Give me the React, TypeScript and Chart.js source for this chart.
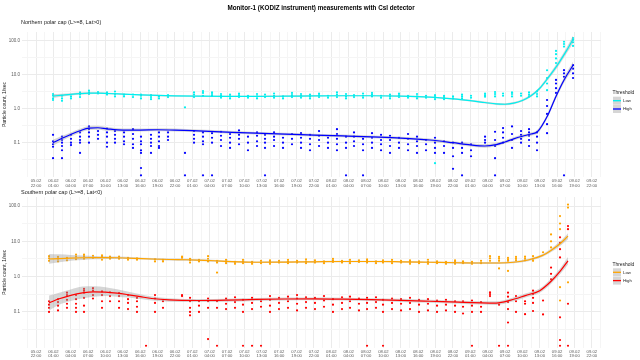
import React, { useEffect, useRef } from 'react';
import { Chart, registerables } from 'chart.js';
Chart.register(...registerables);

const FONT = '"Liberation Sans", Arial, Helvetica, sans-serif';

const mainTitle = 'Monitor-1 (KODIZ instrument) measurements with CsI detector';
const northTitle = 'Northern polar cap (L>=8, Lat>0)';
const southTitle = 'Southern polar cap (L>=8, Lat<0)';
const legendTitle = 'Threshold';
const seriesNames = ['Low', 'High'];
const yAxisTitle = 'Particle count, 1/sec';

// x axis: hours since 05.02 00:00
const xTickHours = [22, 25, 28, 31, 34, 37, 40, 43, 46, 49, 52, 55, 58, 61, 64, 67, 70, 73, 76, 79, 82, 85, 88, 91, 94, 97, 100, 103, 106, 109, 112, 115, 118];
const xTickLabels = [
  '05.02 22:00', '06.02 01:00', '06.02 04:00', '06.02 07:00', '06.02 10:00', '06.02 13:00', '06.02 16:00', '06.02 19:00', '06.02 22:00',
  '07.02 01:00', '07.02 04:00', '07.02 07:00', '07.02 10:00', '07.02 13:00', '07.02 16:00', '07.02 19:00', '07.02 22:00',
  '08.02 01:00', '08.02 04:00', '08.02 07:00', '08.02 10:00', '08.02 13:00', '08.02 16:00', '08.02 19:00', '08.02 22:00',
  '09.02 01:00', '09.02 04:00', '09.02 07:00', '09.02 10:00', '09.02 13:00', '09.02 16:00', '09.02 19:00', '09.02 22:00',
];
const X_MIN = 19.58;
const X_MAX = 119.58;

const yTickValues = [0.1, 1, 10, 100];
const yTickLabels = ['0.1', '1.0', '10.0', '100.0'];
const yMinorValues = [0.0316, 0.316, 3.16, 31.6];
const Y_MIN = 0.0098;
const Y_MAX = 180;

// ---------------- Northern polar cap ----------------
const northTimes = [
  24.94, 26.49, 28.04, 29.6, 31.15, 32.71, 34.26, 35.64, 37.2, 38.75, 40.13, 41.86, 43.24, 44.8,
  47.73, 49.29, 50.84, 52.4, 53.95, 55.51, 57.06, 58.61, 60.17, 61.55, 63.11, 64.66, 66.21, 67.77,
  69.32, 70.88, 72.43, 73.98, 75.54, 76.92, 78.48, 80.03, 81.59, 83.14, 84.69, 86.25, 87.8, 89.36,
  90.91, 92.47, 94.02, 95.58, 97.13, 99.55, 101.28, 102.66, 104.21, 105.77, 107.15, 108.53, 110.26,
  111.81, 113.19, 114.75,
];
const northLow = [
  [1.8, 2.0, 2.4, 2.7], [1.7, 2.0, 2.4], [2.0, 2.3], [2.2, 2.6, 3.0], [2.7, 3.0, 3.4], [2.8, 3.1], [2.6, 3.0],
  [2.3, 2.7, 3.2], [2.3, 2.6], [2.2, 2.6], [2.0, 2.4, 2.6], [1.9, 2.2, 2.5], [2.0, 2.3], [2.2, 2.5],
  [1.1], [2.2, 2.6, 3.0], [2.4, 2.9, 3.3], [2.4, 2.7, 3.0], [2.1, 2.4, 2.7], [2.0, 2.3, 2.6], [2.2, 2.5, 2.8],
  [2.1, 2.4], [2.0, 2.3, 2.7], [2.2, 2.6], [2.1, 2.4, 2.8], [2.0, 2.3], [2.2, 2.5, 2.9], [2.1, 2.4, 2.7],
  [2.0, 2.3, 2.6], [2.2, 2.5, 2.8], [2.1, 2.4], [2.2, 2.6, 3.0], [2.0, 2.3, 2.7], [2.2, 2.5], [2.1, 2.4, 2.8],
  [2.3, 2.6, 2.9], [2.1, 2.4], [2.0, 2.3, 2.6], [2.2, 2.5, 2.8], [2.1, 2.4], [2.0, 2.3, 2.7], [2.1, 2.4],
  [0.025, 1.9, 2.2, 2.5], [1.9, 2.2, 2.4], [2.0, 2.3], [2.0, 2.3, 2.6], [2.1, 2.4], [2.25, 2.5, 2.8], [2.3, 2.7, 3.1],
  [2.4, 2.8], [2.3, 2.7, 3.0], [2.4, 2.8], [2.3, 2.6, 3.0], [2.3, 2.7, 3.2], [3.5, 5.5, 8.0, 13.5],
  [22, 30, 40, 50], [67, 80, 93], [70, 90, 105, 120],
];
const northHigh = [
  [0.035, 0.076, 0.09, 0.11, 0.17], [0.035, 0.06, 0.08, 0.1, 0.12, 0.15], [0.085, 0.1, 0.13, 0.17],
  [0.05, 0.1, 0.12, 0.15, 0.2], [0.1, 0.15, 0.2, 0.25, 0.3], [0.13, 0.17, 0.22], [0.076, 0.1, 0.15, 0.2, 0.26],
  [0.1, 0.13, 0.17, 0.22], [0.09, 0.11, 0.15, 0.2], [0.07, 0.09, 0.13, 0.18, 0.25],
  [0.011, 0.018, 0.05, 0.06, 0.09, 0.11, 0.15], [0.05, 0.08, 0.1, 0.13, 0.17], [0.07, 0.08, 0.11, 0.15, 0.2],
  [0.12, 0.15, 0.2], [0.011, 0.05], [0.1, 0.13, 0.17, 0.22], [0.011, 0.09, 0.11, 0.15, 0.2], [0.011, 0.1, 0.14, 0.19],
  [0.08, 0.12, 0.16, 0.21], [0.07, 0.1, 0.14, 0.18], [0.09, 0.13, 0.17, 0.23], [0.06, 0.1, 0.15],
  [0.08, 0.11, 0.16, 0.2], [0.011, 0.07, 0.1, 0.13, 0.17], [0.08, 0.12, 0.15, 0.2], [0.07, 0.1, 0.14],
  [0.09, 0.13, 0.18], [0.07, 0.1, 0.14, 0.19], [0.06, 0.09, 0.13, 0.17], [0.08, 0.12, 0.16, 0.22],
  [0.07, 0.1, 0.14], [0.06, 0.09, 0.13, 0.18, 0.25], [0.011, 0.07, 0.1, 0.15], [0.08, 0.11, 0.15, 0.2],
  [0.011, 0.06, 0.09, 0.13], [0.07, 0.1, 0.14, 0.19], [0.06, 0.09, 0.12, 0.17], [0.05, 0.08, 0.12, 0.16],
  [0.07, 0.1, 0.14], [0.06, 0.09, 0.13, 0.18], [0.05, 0.08, 0.11, 0.15], [0.06, 0.09, 0.12],
  [0.05, 0.07, 0.1, 0.14], [0.05, 0.08, 0.11], [0.017, 0.04, 0.07, 0.1], [0.011, 0.05, 0.07, 0.1],
  [0.04, 0.06, 0.09], [0.1, 0.12, 0.15], [0.011, 0.035, 0.08, 0.12, 0.21], [0.1, 0.14, 0.2, 0.27],
  [0.07, 0.12, 0.18, 0.3], [0.1, 0.13, 0.17, 0.22], [0.08, 0.12, 0.16, 0.2, 0.25], [0.06, 0.1, 0.15, 0.2],
  [0.19, 0.35, 0.7, 1.2, 1.8], [2.9, 4.0, 5.5, 7.0], [0.011, 8.7, 11, 13.6], [8, 11, 15, 19],
];
const northLowFitH = [24.94, 26.5, 28, 29.6, 31.15, 32.7, 34.3, 37, 40, 43, 46, 50, 55, 60, 65, 70, 75, 80, 85, 90, 94, 97, 99.5, 101.5, 103, 104.5, 106, 107.5, 109, 110.3, 111.5, 112.5, 113.6, 114.75];
const northLowFit = [2.35, 2.5, 2.65, 2.78, 2.85, 2.85, 2.8, 2.68, 2.55, 2.45, 2.38, 2.33, 2.3, 2.3, 2.33, 2.37, 2.4, 2.4, 2.35, 2.2, 1.95, 1.72, 1.52, 1.38, 1.35, 1.45, 1.75, 2.4, 4.0, 7.5, 14, 25, 50, 110];
const northLowLo = [2.05, 2.28, 2.45, 2.6, 2.68, 2.69, 2.65, 2.55, 2.43, 2.33, 2.26, 2.23, 2.21, 2.21, 2.24, 2.28, 2.31, 2.31, 2.26, 2.11, 1.86, 1.63, 1.43, 1.29, 1.26, 1.35, 1.62, 2.2, 3.6, 6.6, 12, 21, 41, 85];
const northLowHi = [2.7, 2.75, 2.86, 2.97, 3.03, 3.02, 2.96, 2.82, 2.68, 2.58, 2.5, 2.44, 2.4, 2.4, 2.43, 2.47, 2.5, 2.5, 2.45, 2.3, 2.05, 1.82, 1.62, 1.48, 1.45, 1.57, 1.9, 2.65, 4.45, 8.5, 16.5, 30, 61, 140];
const northHighFitH = [24.94, 26.5, 28, 29.6, 31.15, 32.7, 34.3, 37, 40, 43, 46, 50, 55, 60, 65, 70, 75, 80, 85, 90, 94, 97, 99.5, 101.5, 103, 104.5, 106, 107.5, 108.6, 110.3, 111.8, 113.2, 114.75];
const northHighFit = [0.1, 0.135, 0.175, 0.225, 0.27, 0.275, 0.255, 0.235, 0.235, 0.24, 0.235, 0.222, 0.205, 0.19, 0.178, 0.168, 0.158, 0.148, 0.137, 0.12, 0.1, 0.086, 0.08, 0.088, 0.105, 0.13, 0.155, 0.18, 0.21, 0.6, 2.3, 7.0, 19];
const northHighLo = [0.082, 0.115, 0.152, 0.197, 0.235, 0.24, 0.225, 0.21, 0.212, 0.216, 0.212, 0.202, 0.187, 0.173, 0.162, 0.153, 0.144, 0.135, 0.125, 0.109, 0.09, 0.077, 0.071, 0.078, 0.094, 0.117, 0.139, 0.16, 0.185, 0.52, 1.95, 5.8, 15];
const northHighHi = [0.122, 0.16, 0.2, 0.257, 0.31, 0.315, 0.29, 0.263, 0.26, 0.266, 0.26, 0.244, 0.225, 0.208, 0.195, 0.184, 0.173, 0.162, 0.15, 0.132, 0.111, 0.096, 0.09, 0.099, 0.117, 0.145, 0.173, 0.2, 0.24, 0.69, 2.7, 8.4, 24];

// ---------------- Southern polar cap ----------------
const southTimes = [
  24.25, 25.8, 27.35, 28.91, 30.29, 31.84, 33.4, 34.78, 36.34, 37.89, 39.44, 41.0, 42.55, 43.93,
  47.22, 48.6, 50.15, 51.71, 53.26, 54.82, 56.37, 57.75, 59.31, 60.86, 62.41, 63.97, 65.52, 67.08,
  68.63, 70.18, 71.74, 73.29, 74.85, 76.23, 77.78, 79.17, 80.72, 81.93, 83.49, 85.04, 86.59, 88.15,
  89.7, 91.26, 92.81, 94.37, 95.75, 97.3, 98.86, 100.41, 101.97, 103.52, 104.9, 106.46, 107.84,
  109.57, 110.95, 112.5, 113.88,
];
const southLow = [
  [2.8, 3.3, 3.8], [2.7, 3.2, 3.6], [2.9, 3.4], [3.1, 3.7, 4.2], [3.2, 3.8, 4.2], [3.4, 3.9], [3.0, 3.6, 4.0],
  [3.2, 3.7], [3.2, 3.7], [3.0, 3.4], [3.0, 3.3], [], [2.7, 3.1], [2.7, 3.0],
  [3.4, 3.7], [2.5, 2.9, 3.2], [2.7, 3.0], [2.7, 3.2, 3.8], [1.3, 2.5, 2.8], [2.4, 2.7, 3.0], [2.3, 2.6],
  [2.4, 2.7, 3.0], [2.3, 2.6], [2.4, 2.8], [2.3, 2.6, 2.9], [2.5, 2.8], [2.4, 2.7, 3.0], [2.5, 2.8],
  [2.4, 2.7, 3.1], [2.5, 2.9], [2.4, 2.7], [2.6, 2.9, 3.2], [2.5, 2.8], [2.4, 2.7, 3.0], [2.6, 2.9],
  [2.5, 2.8, 3.1], [2.4, 2.7], [2.5, 2.9], [2.4, 2.7, 3.0], [2.5, 2.8], [2.3, 2.6, 2.9], [2.4, 2.7],
  [2.3, 2.6, 3.0], [2.4, 2.7], [2.3, 2.6], [2.3, 2.6, 2.9], [2.4, 2.7], [2.3, 2.6], [2.4, 2.8],
  [2.8, 3.3, 3.8], [1.7, 2.8, 3.2, 3.6], [1.45, 2.8, 3.1, 3.4], [2.9, 3.2, 3.6], [2.9, 3.3, 3.7], [2.8, 3.2, 3.8],
  [4.9], [6.7, 10, 15.7], [0.21, 0.5, 22, 32, 52], [0.69, 90, 110],
];
const southHigh = [
  [0.1, 0.13, 0.16, 0.2], [0.11, 0.15, 0.19, 0.23], [0.13, 0.17, 0.22, 0.3, 0.35], [0.1, 0.13, 0.17, 0.23, 0.3],
  [0.1, 0.15, 0.25, 0.35, 0.4, 0.45], [0.24, 0.3, 0.4, 0.47], [0.13, 0.2, 0.3, 0.38], [0.2, 0.28, 0.36],
  [0.13, 0.2, 0.28, 0.34], [0.12, 0.18, 0.23, 0.3], [0.1, 0.14, 0.2, 0.25], [0.011], [0.1, 0.18, 0.24, 0.3],
  [0.13, 0.2], [0.28, 0.3], [0.08, 0.1, 0.13, 0.2, 0.25], [0.1, 0.15, 0.2], [0.017, 0.13, 0.2, 0.24],
  [0.011, 0.13, 0.2], [0.12, 0.17, 0.24], [0.13, 0.19, 0.26], [0.011, 0.1, 0.16, 0.22], [0.011, 0.12, 0.18, 0.25],
  [0.011, 0.14, 0.2], [0.1, 0.15, 0.22, 0.28], [0.12, 0.18, 0.25], [0.13, 0.2, 0.27], [0.11, 0.17, 0.24, 0.3],
  [0.13, 0.19, 0.26], [0.12, 0.18, 0.25], [0.14, 0.21, 0.28], [0.1, 0.16, 0.23], [0.12, 0.18, 0.26],
  [0.13, 0.2, 0.27], [0.11, 0.17, 0.24], [0.011, 0.12, 0.18, 0.25], [0.13, 0.19, 0.26], [0.011, 0.1, 0.16, 0.22],
  [0.12, 0.18, 0.24], [0.11, 0.17, 0.23], [0.12, 0.18, 0.25], [0.1, 0.16, 0.22], [0.11, 0.17, 0.23],
  [0.1, 0.15, 0.21], [0.11, 0.16, 0.22], [0.1, 0.15, 0.2], [0.09, 0.14, 0.2], [0.011, 0.1, 0.15, 0.21],
  [0.1, 0.14, 0.19], [0.28, 0.32, 0.36], [0.011, 0.16], [0.011, 0.05, 0.12, 0.19, 0.27, 0.35], [0.1, 0.2, 0.28],
  [0.086, 0.17, 0.2], [0.106, 0.18, 0.25, 0.32, 0.4], [0.085, 0.21], [0.84, 1.2, 1.8], [0.011, 0.016, 0.07, 3.5, 6, 9, 13],
  [0.011, 0.17, 22, 27],
];
const southLowFitH = [24.25, 26, 28, 30, 32, 34, 36, 39, 42, 45, 48, 51, 54, 57, 60, 65, 70, 75, 80, 85, 90, 95, 99, 102, 104.5, 107, 109.5, 111, 112.5, 113.88];
const southLowFit = [3.15, 3.25, 3.35, 3.42, 3.45, 3.45, 3.42, 3.3, 3.15, 3.05, 3.0, 2.9, 2.75, 2.62, 2.55, 2.57, 2.63, 2.68, 2.68, 2.63, 2.55, 2.47, 2.43, 2.43, 2.55, 2.95, 4.0, 5.6, 8.5, 14];
const southLowLo = [2.3, 2.55, 2.8, 2.95, 3.08, 3.15, 3.17, 3.1, 2.96, 2.87, 2.82, 2.73, 2.59, 2.47, 2.41, 2.43, 2.49, 2.54, 2.54, 2.49, 2.41, 2.33, 2.29, 2.28, 2.38, 2.73, 3.65, 5.0, 7.4, 11.5];
const southLowHi = [4.4, 4.3, 4.1, 3.95, 3.85, 3.78, 3.7, 3.52, 3.35, 3.24, 3.19, 3.08, 2.92, 2.78, 2.7, 2.72, 2.78, 2.83, 2.83, 2.78, 2.7, 2.62, 2.58, 2.6, 2.74, 3.2, 4.4, 6.3, 9.8, 17];
const southHighFitH = [24.25, 26, 28, 30, 32, 34, 36, 38, 40, 42, 45, 50, 55, 60, 65, 70, 75, 80, 85, 90, 95, 99, 101.5, 104, 106.5, 109, 111, 112.5, 113.88];
const southHighFit = [0.18, 0.235, 0.295, 0.345, 0.37, 0.365, 0.34, 0.305, 0.27, 0.24, 0.218, 0.21, 0.215, 0.225, 0.232, 0.235, 0.23, 0.222, 0.212, 0.2, 0.188, 0.18, 0.178, 0.215, 0.29, 0.4, 0.75, 1.4, 2.8];
const southHighLo = [0.11, 0.16, 0.205, 0.24, 0.27, 0.28, 0.27, 0.255, 0.232, 0.21, 0.195, 0.19, 0.195, 0.205, 0.212, 0.215, 0.21, 0.202, 0.192, 0.181, 0.17, 0.161, 0.158, 0.19, 0.256, 0.35, 0.64, 1.16, 2.2];
const southHighHi = [0.29, 0.35, 0.43, 0.52, 0.53, 0.5, 0.44, 0.375, 0.315, 0.275, 0.244, 0.232, 0.237, 0.247, 0.254, 0.257, 0.252, 0.244, 0.234, 0.221, 0.208, 0.201, 0.2, 0.243, 0.33, 0.46, 0.88, 1.7, 3.6];

const BAND = 'rgba(153,153,153,0.4)';

type Panel = {
  times: number[]; low: number[][]; high: number[][];
  lowFitH: number[]; lowFit: number[]; lowLo: number[]; lowHi: number[];
  highFitH: number[]; highFit: number[]; highLo: number[]; highHi: number[];
  lowColor: string; highColor: string;
  title?: string; subtitle: string; subtitleY: number; legendY: number;
  padTop: number; padBottom: number;
};

const pts = (times: number[], groups: number[][]) => {
  const out: { x: number; y: number }[] = [];
  groups.forEach((g, i) => g.forEach((v) => out.push({ x: times[i], y: v })));
  return out;
};
const line = (hs: number[], vs: number[]) => hs.map((h, i) => ({ x: h, y: vs[i] }));

const textPlugin = {
  id: 'panelText',
  afterDraw(chart: any, _args: any, opts: any) {
    const ctx = chart.ctx;
    ctx.save();
    ctx.textBaseline = 'middle';
    if (opts.title) {
      ctx.font = `bold 6.3px ${FONT}`;
      ctx.fillStyle = '#000';
      ctx.textAlign = 'center';
      ctx.fillText(opts.title, 321, 8);
    }
    ctx.font = `5.5px ${FONT}`;
    ctx.fillStyle = '#1a1a1a';
    ctx.textAlign = 'left';
    ctx.fillText(opts.subtitle, 21, opts.subtitleY);
    // legend
    const ly = opts.legendY;
    ctx.font = `4.9px ${FONT}`;
    ctx.fillStyle = '#1a1a1a';
    ctx.fillText(legendTitle, 612.5, ly);
    opts.colors.forEach((c: string, i: number) => {
      const top = ly + 4 + i * 8.3;
      ctx.fillStyle = '#D6D6D6';
      ctx.fillRect(613, top, 8, 8);
      ctx.strokeStyle = c;
      ctx.lineWidth = 1.3;
      ctx.beginPath();
      ctx.moveTo(613, top + 4);
      ctx.lineTo(621, top + 4);
      ctx.stroke();
      ctx.fillStyle = '#1a1a1a';
      ctx.font = `4.3px ${FONT}`;
      ctx.fillText(seriesNames[i], 623, top + 4.3);
    });
    ctx.restore();
  },
};

function makeConfig(p: Panel): any {
  const majorX = new Set(xTickHours);
  const minorX = xTickHours.map((h) => h - 1.5).concat([xTickHours[xTickHours.length - 1] + 1.5]).filter((h) => h >= X_MIN && h <= X_MAX);
  const fitStyle = (color: string) => ({ type: 'line', borderColor: color, borderWidth: 1.2, pointRadius: 0, cubicInterpolationMode: 'monotone', fill: false });
  const bandStyle = { type: 'line', borderWidth: 0, borderColor: 'rgba(0,0,0,0)', pointRadius: 0, cubicInterpolationMode: 'monotone' };
  return {
    type: 'scatter',
    data: {
      datasets: [
        { ...fitStyle(p.lowColor), data: line(p.lowFitH, p.lowFit), order: 0 },
        { ...fitStyle(p.highColor), data: line(p.highFitH, p.highFit), order: 0 },
        { ...bandStyle, data: line(p.lowFitH, p.lowLo), fill: false, order: 1 },
        { ...bandStyle, data: line(p.lowFitH, p.lowHi), fill: '-1', backgroundColor: BAND, order: 1 },
        { ...bandStyle, data: line(p.highFitH, p.highLo), fill: false, order: 1 },
        { ...bandStyle, data: line(p.highFitH, p.highHi), fill: '-1', backgroundColor: BAND, order: 1 },
        { type: 'scatter', data: pts(p.times, p.low), pointRadius: 1.1, pointBackgroundColor: p.lowColor, pointBorderWidth: 0, order: 5 },
        { type: 'scatter', data: pts(p.times, p.high), pointRadius: 1.1, pointBackgroundColor: p.highColor, pointBorderWidth: 0, order: 5 },
      ],
    },
    options: {
      responsive: false,
      animation: false,
      events: [],
      layout: { padding: { top: p.padTop, bottom: p.padBottom, left: 0, right: 39 } },
      plugins: {
        legend: { display: false },
        tooltip: { enabled: false },
        panelText: { title: p.title, subtitle: p.subtitle, subtitleY: p.subtitleY, legendY: p.legendY, colors: [p.lowColor, p.highColor] },
      },
      scales: {
        x: {
          type: 'linear',
          min: X_MIN,
          max: X_MAX,
          afterBuildTicks: (s: any) => {
            s.ticks = [...xTickHours, ...minorX].sort((a, b) => a - b).map((v) => ({ value: v }));
          },
          afterFit: (s: any) => { s.height = 12; },
          ticks: {
            autoSkip: false,
            maxRotation: 0,
            minRotation: 0,
            padding: 2,
            color: '#5a5a5a',
            font: { size: 4.2, family: FONT, lineHeight: 1.05 },
            callback: (v: number) => {
              const i = xTickHours.indexOf(v);
              return i >= 0 ? xTickLabels[i].split(' ') : '';
            },
          },
          grid: {
            drawTicks: false,
            color: (c: any) => (c.tick && majorX.has(c.tick.value) ? '#EBEBEB' : '#F5F5F5'),
            lineWidth: 1,
          },
          border: { display: false },
        },
        y: {
          type: 'logarithmic',
          min: Y_MIN,
          max: Y_MAX,
          afterBuildTicks: (s: any) => {
            s.ticks = [...yMinorValues, ...yTickValues].sort((a, b) => a - b).map((v) => ({ value: v }));
          },
          afterFit: (s: any) => { s.width = 22; },
          ticks: {
            padding: 2,
            color: '#5a5a5a',
            font: { size: 4.5, family: FONT },
            callback: (v: number) => {
              const i = yTickValues.indexOf(v);
              return i >= 0 ? yTickLabels[i] : '';
            },
          },
          grid: {
            drawTicks: false,
            color: (c: any) => (c.tick && yTickValues.includes(c.tick.value) ? '#EBEBEB' : '#F5F5F5'),
            lineWidth: 1,
          },
          border: { display: false },
          title: { display: true, text: yAxisTitle, color: '#1a1a1a', font: { size: 5, family: FONT }, padding: { top: 2, bottom: 0 } },
        },
      },
    },
    plugins: [textPlugin],
  };
}

const northPanel: Panel = {
  times: northTimes, low: northLow, high: northHigh,
  lowFitH: northLowFitH, lowFit: northLowFit, lowLo: northLowLo, lowHi: northLowHi,
  highFitH: northHighFitH, highFit: northHighFit, highLo: northHighLo, highHi: northHighHi,
  lowColor: '#00F0F0', highColor: '#0000FF',
  title: mainTitle, subtitle: northTitle, subtitleY: 22.5, legendY: 92.7,
  padTop: 32, padBottom: 360 - 177 - 12,
};
const southPanel: Panel = {
  times: southTimes, low: southLow, high: southHigh,
  lowFitH: southLowFitH, lowFit: southLowFit, lowLo: southLowLo, lowHi: southLowHi,
  highFitH: southHighFitH, highFit: southHighFit, highLo: southHighLo, highHi: southHighHi,
  lowColor: '#FFA500', highColor: '#FF0000',
  subtitle: southTitle, subtitleY: 192.3, legendY: 264.3,
  padTop: 197, padBottom: 0.5,
};

function PanelChart({ panel }: { panel: Panel }) {
  const ref = useRef<HTMLCanvasElement>(null);
  useEffect(() => {
    if (!ref.current) return;
    const chart = new Chart(ref.current, makeConfig(panel));
    return () => chart.destroy();
  }, [panel]);
  return <canvas ref={ref} width={640} height={360} style={{ position: 'absolute', left: 0, top: 0, width: 640, height: 360 }} />;
}

export default function App() {
  return (
    <div style={{ position: 'fixed', left: 0, top: 0, width: 640, height: 360, background: '#fff', fontFamily: FONT }}>
      <PanelChart panel={northPanel} />
      <PanelChart panel={southPanel} />
    </div>
  );
}
